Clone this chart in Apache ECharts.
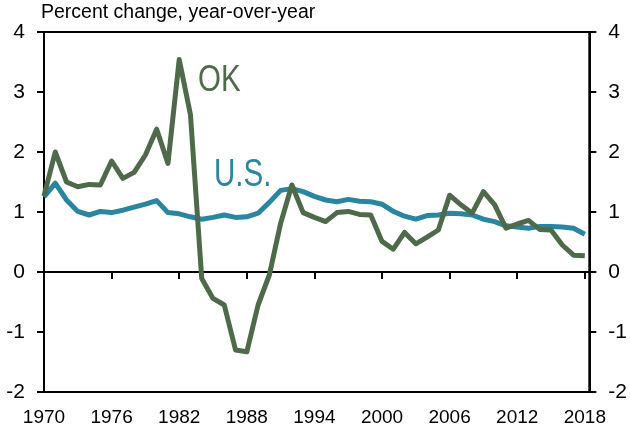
<!DOCTYPE html>
<html>
<head>
<meta charset="utf-8">
<script src="https://cdn.jsdelivr.net/npm/echarts@6/dist/echarts.min.js"></script>
<style>
  html, body { margin: 0; padding: 0; background: #fff; }
  #chart { width: 630px; height: 433px; }
</style>
</head>
<body>
<div id="chart"></div>
<script>
(function () {
    // 年份和两条线的数据
    const years = [];
    for (let y = 1970; y <= 2018; y++) years.push(y);

    const okValues = [
        1.27, 2.00, 1.50, 1.42, 1.46, 1.45, 1.85, 1.56, 1.66, 1.95,
        2.38, 1.81, 3.54, 2.62, -0.11, -0.44, -0.55, -1.30, -1.33, -0.55,
        -0.05, 0.81, 1.45, 0.99, 0.91, 0.84, 0.99, 1.01, 0.96, 0.95,
        0.51, 0.38, 0.66, 0.47, 0.58, 0.70, 1.28, 1.12, 0.98, 1.34,
        1.12, 0.73, 0.80, 0.86, 0.71, 0.70, 0.45, 0.28, 0.27
    ];
    const usValues = [
        1.25, 1.48, 1.20, 1.01, 0.95, 1.01, 0.99, 1.03, 1.08, 1.13,
        1.19, 0.99, 0.97, 0.92, 0.88, 0.91, 0.95, 0.91, 0.92, 0.98,
        1.16, 1.36, 1.39, 1.34, 1.26, 1.20, 1.17, 1.21, 1.18, 1.17,
        1.13, 1.01, 0.93, 0.88, 0.94, 0.95, 0.98, 0.97, 0.95, 0.88,
        0.84, 0.77, 0.75, 0.73, 0.76, 0.76, 0.75, 0.73, 0.63
    ];
    const xTicks = [1970, 1976, 1982, 1988, 1994, 2000, 2006, 2012, 2018];

    const OK_COLOR = '#4e6a4b';
    const US_COLOR = '#2a86a0';
    const SANS = '"Liberation Sans", Arial, sans-serif';

    const pairs = (vals) => years.map((y, i) => [y, vals[i]]);

    const yAxisBase = {
        type: 'value',
        min: -2,
        max: 4,
        interval: 1,
        splitLine: { show: false },
        axisLine: { show: true, lineStyle: { color: '#000', width: 2 } },
        axisTick: { show: true, length: 7, lineStyle: { color: '#000', width: 2 } },
        axisLabel: { color: '#000', fontSize: 21, fontFamily: SANS, margin: 19 }
    };

    let option = {
        animation: false,
        backgroundColor: '#fff',
        grid: {
            left: 44, right: 38, top: 32, bottom: 41,
            show: true, borderColor: '#000', borderWidth: 2
        },
        graphic: [
            {
                type: 'text', left: 41, top: 3,
                style: { text: 'Percent change, year-over-year', fill: '#000', font: '19.5px ' + SANS }
            },
            {
                type: 'text', x: 198, y: 62, scaleY: 1.27,
                style: { text: 'OK', fill: OK_COLOR, font: '29.5px ' + SANS }
            },
            {
                type: 'text', x: 214, y: 156, scaleY: 1.3,
                style: { text: 'U.S.', fill: US_COLOR, font: '29.5px ' + SANS }
            }
        ],
        xAxis: [
            {
                // 底部的年份标签
                type: 'value',
                min: 1970,
                max: 2018.4,
                position: 'bottom',
                splitLine: { show: false },
                axisLine: { show: true, onZero: false, lineStyle: { color: '#000', width: 2 } },
                axisTick: { show: false },
                axisLabel: {
                    color: '#000', fontSize: 19, fontFamily: SANS, margin: 16,
                    customValues: xTicks,
                    formatter: (v) => String(v)
                }
            },
            {
                // 零线和刻度
                type: 'value',
                min: 1970,
                max: 2018.4,
                position: 'bottom',
                splitLine: { show: false },
                axisLine: { show: true, onZero: true, lineStyle: { color: '#000', width: 2 } },
                axisTick: { show: true, length: 7, customValues: xTicks, lineStyle: { color: '#000', width: 2 } },
                axisLabel: { show: true, customValues: xTicks, formatter: () => '' }
            }
        ],
        yAxis: [
            Object.assign({}, yAxisBase, { position: 'left' }),
            Object.assign({}, yAxisBase, { position: 'right' })
        ],
        series: [
            {
                name: 'U.S.',
                type: 'line',
                data: pairs(usValues),
                showSymbol: false,
                lineStyle: { color: US_COLOR, width: 5, join: 'round' },
                z: 3
            },
            {
                name: 'OK',
                type: 'line',
                data: pairs(okValues),
                showSymbol: false,
                lineStyle: { color: OK_COLOR, width: 5, join: 'round' },
                z: 4
            }
        ]
    };

    const myChart = echarts.init(document.getElementById('chart'));
    myChart.setOption(option);
}());
</script>
</body>
</html>
